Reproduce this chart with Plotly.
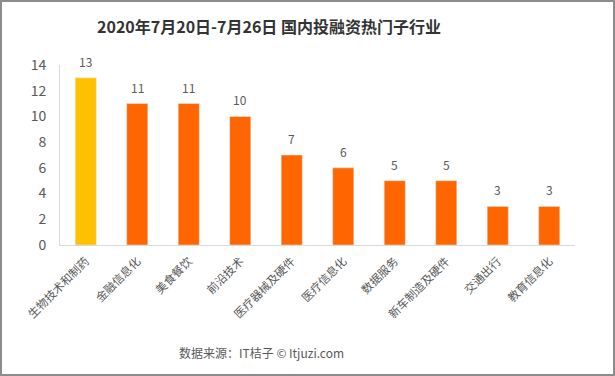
import plotly.graph_objects as go

categories = ["生物技术和制药", "金融信息化", "美食餐饮", "前沿技术", "医疗器械及硬件",
              "医疗信息化", "数据服务", "新车制造及硬件", "交通出行", "教育信息化"]
values = [13, 11, 11, 10, 7, 6, 5, 5, 3, 3]
colors = ["#FFC000"] + ["#FF6600"] * 9
y_ticks = [0, 2, 4, 6, 8, 10, 12, 14]

W, H = 615, 376
L, R, T, B = 60, 40, 65, 131
pw, ph = W - L - R, H - T - B

fig = go.Figure(go.Bar(
    x=categories, y=values, marker_color=colors, width=0.41,
))

value_labels = [dict(x=c, y=v, text=str(v), xref="x", yref="y", showarrow=False,
                     yanchor="bottom", yshift=6,
                     font=dict(size=12, color="#595959"))
                for c, v in zip(categories, values)]

fig.update_layout(
    width=W, height=H,
    margin=dict(l=L, r=R, t=T, b=B, autoexpand=False),
    paper_bgcolor="white", plot_bgcolor="white",
    font=dict(family="Noto Sans CJK SC, sans-serif", color="#595959"),
    showlegend=False,
    bargap=0.59,
    title=dict(text="<b>2020年7月20日-7月26日 国内投融资热门子行业</b>",
               x=269 / W, xanchor="center", y=1 - 27 / H, yanchor="middle",
               font=dict(size=16, color="#333333")),
    annotations=value_labels + [
        dict(text="数据来源：IT桔子 © Itjuzi.com", xref="paper", yref="paper",
             x=(261 - L) / pw, y=-(352 - T - ph) / ph, xanchor="center",
             yanchor="middle", showarrow=False,
             font=dict(size=12, color="#595959"))],
    shapes=[dict(type="rect", xref="paper", yref="paper",
                 x0=-(L - 1) / pw, x1=(W - L - 1) / pw,
                 y0=-(B - 1) / ph, y1=1 + (T - 1) / ph,
                 line=dict(color="#8c8c8c", width=2))],
)
fig.update_xaxes(tickangle=-45, tickfont=dict(size=11.5, color="#595959"),
                 showline=True, linecolor="#d9d9d9", linewidth=1, ticks="",
                 ticklabelstandoff=4)
fig.update_yaxes(range=[0, 14], tickvals=y_ticks, showgrid=False, zeroline=False,
                 showline=True, linecolor="#d9d9d9", linewidth=1,
                 tickfont=dict(size=14, color="#595959"), ticks="", ticklen=0,
                 ticklabelstandoff=10)

fig.write_html("out.html", config={"displayModeBar": False},
               post_script="document.body.style.margin='0';")
